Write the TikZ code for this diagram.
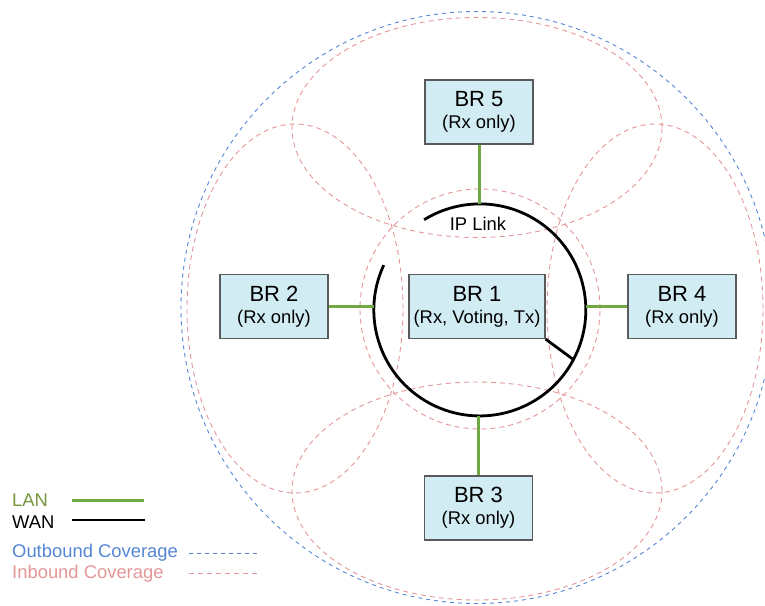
\documentclass[tikz,border=0pt]{standalone}
\usepackage{fontspec}
\setmainfont{Liberation Sans}
\definecolor{lanGreen}{RGB}{112,168,66}
\definecolor{lanText}{RGB}{118,150,62}
\definecolor{outBlue}{RGB}{84,134,212}
\definecolor{inRed}{RGB}{228,150,150}
\definecolor{boxFill}{RGB}{210,236,243}
\definecolor{boxGray}{RGB}{90,90,90}
\newcommand{\brlabel}[2]{{\fontsize{22}{24}\selectfont #1}\\#2}
\begin{document}
\begin{tikzpicture}[x=1pt,y=1pt,
    station/.style={draw=boxGray,line width=1.2pt,fill=boxFill,minimum width=108pt,
                    minimum height=64pt,align=center,inner sep=2pt,
                    font=\fontsize{18.4}{22}\selectfont},
    lan/.style={draw=lanGreen,line width=3pt},
    wan/.style={draw=black,line width=2.8pt},
    outcov/.style={draw=outBlue,line width=0.9pt,dash pattern=on 4pt off 4pt},
    incov/.style={draw=inRed,line width=0.9pt,dash pattern=on 5pt off 4pt},
    legend/.style={anchor=base west,inner sep=0pt,font=\fontsize{18.4}{21}\selectfont}]
  \useasboundingbox (0,0) rectangle (765,605);

  % coverage areas
  \draw[outcov] (477,297.5) circle (296);
  \draw[incov] (480,296) circle (120);
  \draw[incov] (477,477.5) ellipse (185 and 110);
  \draw[incov] (477,114) ellipse (185 and 109);
  \draw[incov] (295,296.5) ellipse (108 and 184.5);
  \draw[incov] (655,296.5) ellipse (108 and 184.5);

  % base stations
  \node[station,minimum width=136pt] (br1) at (477,298.5) {\brlabel{BR 1}{(Rx, Voting, Tx)}};
  \node[station] (br5) at (479,493) {\brlabel{BR 5}{(Rx only)}};
  \node[station] (br2) at (274,298.5) {\brlabel{BR 2}{(Rx only)}};
  \node[station] (br4) at (682,298.5) {\brlabel{BR 4}{(Rx only)}};
  \node[station] (br3) at (478.5,97) {\brlabel{BR 3}{(Rx only)}};

  % IP link ring
  \node[circle,minimum size=212pt,inner sep=0pt] (ring) at (480,295) {};
  \draw[wan] (ring.155) arc (155:481.7:106);
  \draw[wan] (br1.south east) -- (ring.-28);
  \node[font=\fontsize{18.4}{21}\selectfont] (iplink) at (478,381) {IP Link};

  % LAN links
  \draw[lan] (br5.south) -- (br5.south |- ring.north);
  \draw[lan] (br3.north) -- (br3.north |- ring.south);
  \draw[lan] (br2.east) -- (br2.east -| ring.west);
  \draw[lan] (br4.west) -- (br4.west -| ring.east);

  % legend
  \node[legend,text=lanText] (lanlbl) at (12,99) {LAN};
  \node[legend] (wanlbl) at (12,77) {WAN};
  \node[legend,text=outBlue] (outlbl) at (12,48) {Outbound Coverage};
  \node[legend,text=inRed] (inlbl) at (12,27) {Inbound Coverage};
  \coordinate (lanA) at (72,105);  \coordinate (lanB) at (144,105);
  \coordinate (wanA) at (72,85);   \coordinate (wanB) at (145,85);
  \coordinate (outA) at (189,52);  \coordinate (outB) at (259,52);
  \coordinate (inA) at (189,32);   \coordinate (inB) at (259,32);
  \draw[lan] (lanA) -- (lanB);
  \draw[wan] (wanA) -- (wanB);
  \draw[outcov] (outA) -- (outB);
  \draw[incov] (inA) -- (inB);
\end{tikzpicture}
\end{document}
